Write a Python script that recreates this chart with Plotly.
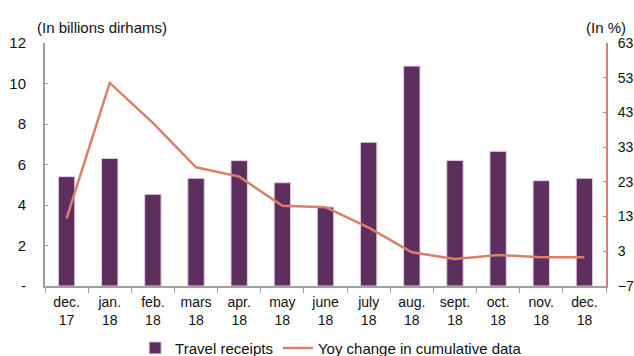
import plotly.graph_objects as go

categories = ["dec.<br>17", "jan.<br>18", "feb.<br>18", "mars<br>18", "apr.<br>18", "may<br>18",
              "june<br>18", "july<br>18", "aug.<br>18", "sept.<br>18", "oct.<br>18", "nov.<br>18", "dec.<br>18"]
travel_receipts = [5.4, 6.3, 4.53, 5.32, 6.19, 5.1, 3.9, 7.1, 10.86, 6.2, 6.65, 5.2, 5.32]
yoy_change = [12.5, 51.5, 40.0, 27.2, 24.5, 16.1, 15.7, 9.8, 2.7, 0.8, 1.9, 1.3, 1.3]

left_ticks = [0, 2, 4, 6, 8, 10, 12]
left_labels = ["-", "2", "4", "6", "8", "10", "12"]
right_ticks = [-7, 3, 13, 23, 33, 43, 53, 63]

FONT = "Liberation Sans, Arial, sans-serif"
BAR = "#5e2f5e"
LINE = "#d8806a"

fig = go.Figure()
fig.add_trace(go.Bar(
    x=categories, y=travel_receipts, name="Travel receipts",
    marker=dict(color=BAR, line=dict(color="#e3cde3", width=1)),
    width=0.38, yaxis="y",
))
fig.add_trace(go.Scatter(
    x=categories, y=yoy_change, name="Yoy change in cumulative data",
    mode="lines", line=dict(color=LINE, width=2.5), yaxis="y2",
))

fig.update_layout(
    width=634, height=356,
    margin=dict(l=45, r=28, t=43, b=70, autoexpand=False),
    paper_bgcolor="white", plot_bgcolor="white",
    font=dict(family=FONT, size=14, color="#111"),
    showlegend=True,
    legend=dict(orientation="h", x=0.51, xanchor="center", yref="container", y=0.022,
                yanchor="middle", font=dict(size=15), itemwidth=30, traceorder="normal",
                tracegroupgap=0),
    xaxis=dict(
        type="category", showgrid=False, showline=True, linecolor="#a0a0a0", linewidth=2,
        ticks="outside", ticklen=5, tickcolor="#a0a0a0", tickson="boundaries",
        tickfont=dict(size=14), range=[-0.5, 12.5], ticklabelstandoff=2,
    ),
    yaxis=dict(
        range=[0, 12], tickvals=left_ticks, ticktext=left_labels, showgrid=False,
        showline=True, linecolor="#a0a0a0", linewidth=2, ticks="inside", ticklen=3,
        tickcolor="#a0a0a0", zeroline=False, tickfont=dict(size=15), ticklabelstandoff=14,
    ),
    yaxis2=dict(
        range=[-7, 63], tickvals=right_ticks, overlaying="y", side="right", showgrid=False,
        showline=True, linecolor=LINE, linewidth=2, ticks="inside", ticklen=3,
        tickcolor=LINE, zeroline=False, tickfont=dict(size=14), ticklabelstandoff=7,
    ),
    annotations=[
        dict(text="(In billions dirhams)", xref="paper", yref="paper", x=-0.018, y=1.02,
             xanchor="left", yanchor="bottom", showarrow=False, font=dict(size=15)),
        dict(text="(In %)", xref="paper", yref="paper", x=1.04, y=1.02,
             xanchor="right", yanchor="bottom", showarrow=False, font=dict(size=15)),
    ],
)

fig.write_html("out.html")
